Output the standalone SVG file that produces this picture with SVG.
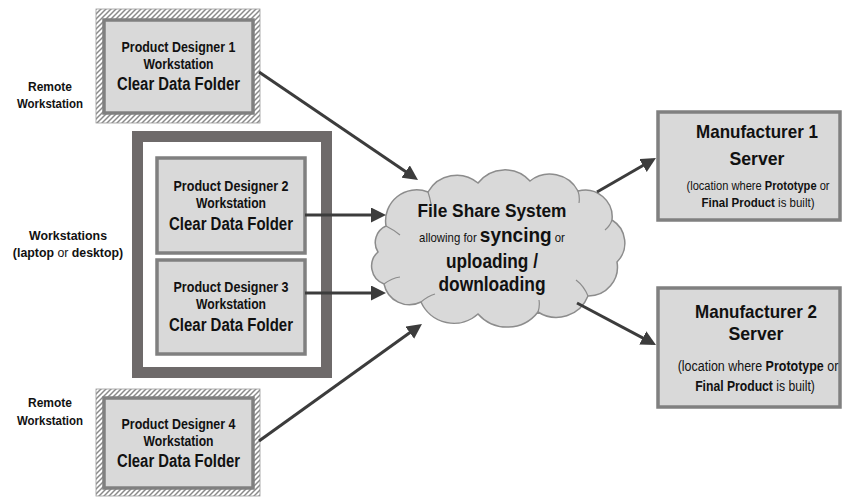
<svg xmlns="http://www.w3.org/2000/svg" width="843" height="500" viewBox="0 0 843 500">
<defs>
<pattern id="hatch" patternUnits="userSpaceOnUse" width="5" height="5">
<rect width="5" height="5" fill="#ffffff"/>
<path d="M-1,1 L1,-1 M0,5 L5,0 M4,6 L6,4" stroke="#8a8a8a" stroke-width="1.5"/>
</pattern>
<marker id="ah" markerUnits="userSpaceOnUse" markerWidth="16" markerHeight="15" refX="11" refY="7.5" orient="auto">
<path d="M0,0 L15,7.5 L0,15 z" fill="#3c3c3c"/>
</marker>
</defs>
<style>
.t{font-family:"Liberation Sans",Arial,sans-serif;font-weight:bold;fill:#111;text-anchor:middle}
.n{font-weight:normal}
.box{fill:#d9d9d9;stroke:#808080;stroke-width:3.5}
.hat{fill:url(#hatch);stroke:#9a9a9a;stroke-width:0.8}
.arr{stroke:#3c3c3c;stroke-width:3;fill:none;marker-end:url(#ah)}
</style>

<g id="label-remote-1">
<text class="t" x="50" y="91" font-size="13" textLength="44" lengthAdjust="spacingAndGlyphs">Remote</text>
<text class="t" x="50" y="108" font-size="13" textLength="66" lengthAdjust="spacingAndGlyphs">Workstation</text>
</g>
<g id="label-workstations">
<text class="t" x="68" y="240" font-size="13" textLength="78" lengthAdjust="spacingAndGlyphs">Workstations</text>
<text class="t" transform="translate(68,257) scale(0.95,1)" x="0" y="0" font-size="13">(laptop <tspan class="n">or</tspan> desktop)</text>
</g>
<g id="label-remote-2">
<text class="t" x="50" y="407" font-size="13" textLength="44" lengthAdjust="spacingAndGlyphs">Remote</text>
<text class="t" x="50" y="425" font-size="13" textLength="66" lengthAdjust="spacingAndGlyphs">Workstation</text>
</g>

<g id="designer1">
<rect class="hat" x="96" y="9" width="164" height="114"/>
<rect class="box" x="104" y="20" width="149" height="93"/>
<text class="t" x="178.5" y="52" font-size="14" textLength="114" lengthAdjust="spacingAndGlyphs">Product Designer 1</text>
<text class="t" x="178.5" y="69" font-size="14" textLength="70" lengthAdjust="spacingAndGlyphs">Workstation</text>
<text class="t" x="178.5" y="90" font-size="18" textLength="123" lengthAdjust="spacingAndGlyphs">Clear Data Folder</text>
</g>

<g id="workstations-frame">
<rect x="137.5" y="136.5" width="189" height="236" fill="#ffffff" stroke="#6e6a6a" stroke-width="11"/>
</g>

<g id="designer2">
<rect class="box" x="157" y="158" width="148" height="95"/>
<text class="t" x="231" y="191" font-size="14" textLength="115" lengthAdjust="spacingAndGlyphs">Product Designer 2</text>
<text class="t" x="231" y="208" font-size="14" textLength="70" lengthAdjust="spacingAndGlyphs">Workstation</text>
<text class="t" x="231" y="230" font-size="18" textLength="124" lengthAdjust="spacingAndGlyphs">Clear Data Folder</text>
</g>

<g id="designer3">
<rect class="box" x="157" y="260" width="148" height="94"/>
<text class="t" x="231" y="292" font-size="14" textLength="115" lengthAdjust="spacingAndGlyphs">Product Designer 3</text>
<text class="t" x="231" y="309" font-size="14" textLength="70" lengthAdjust="spacingAndGlyphs">Workstation</text>
<text class="t" x="231" y="331" font-size="18" textLength="124" lengthAdjust="spacingAndGlyphs">Clear Data Folder</text>
</g>

<g id="designer4">
<rect class="hat" x="96" y="389" width="164" height="107"/>
<rect class="box" x="104" y="398" width="149" height="90"/>
<text class="t" x="178.5" y="429" font-size="14" textLength="114" lengthAdjust="spacingAndGlyphs">Product Designer 4</text>
<text class="t" x="178.5" y="446" font-size="14" textLength="70" lengthAdjust="spacingAndGlyphs">Workstation</text>
<text class="t" x="178.5" y="467" font-size="18" textLength="123" lengthAdjust="spacingAndGlyphs">Clear Data Folder</text>
</g>

<g id="file-share-cloud">
<path d="M386,226 A31,31 0 0 1 428,192 A33,33 0 0 1 478,183 A34,34 0 0 1 530,181 A32,32 0 0 1 578,191 A27,27 0 0 1 612,220 A27,27 0 0 1 617,262 A29,29 0 0 1 588,296 A34,34 0 0 1 538,312 A39,39 0 0 1 478,314 A36,36 0 0 1 421,302 A26,26 0 0 1 384,284 A19,19 0 0 1 378,252 A18,18 0 0 1 386,226 z" fill="#d9d9d9" stroke="#8c8c8c" stroke-width="1.5"/>
<path d="M386,226 Q394,230 400,235 M428,192 Q430,198 431,204 M578,191 Q580,197 579,203 M612,220 Q610,226 605,230 M588,296 Q584,286 576,280 M538,312 Q540,306 539,300 M421,302 Q428,296 435,294 M384,284 Q392,278 400,277" fill="none" stroke="#8c8c8c" stroke-width="1.2"/>
<text class="t" x="492" y="217" font-size="19" textLength="149" lengthAdjust="spacingAndGlyphs">File Share System</text>
<text class="t" transform="translate(492,242) scale(0.95,1)" x="0" y="0" font-size="12"><tspan class="n">allowing for </tspan><tspan font-size="20">syncing</tspan><tspan class="n"> or</tspan></text>
<text class="t" x="492" y="268" font-size="20" textLength="92" lengthAdjust="spacingAndGlyphs">uploading /</text>
<text class="t" x="492" y="291" font-size="20" textLength="107" lengthAdjust="spacingAndGlyphs">downloading</text>
</g>

<g id="manufacturer1">
<rect class="box" x="658" y="112" width="182" height="108"/>
<text class="t" x="757" y="138" font-size="19" textLength="122" lengthAdjust="spacingAndGlyphs">Manufacturer 1</text>
<text class="t" x="757" y="165" font-size="19" textLength="55" lengthAdjust="spacingAndGlyphs">Server</text>
<text class="t" transform="translate(758,190) scale(0.888,1)" x="0" y="0" font-size="12.5"><tspan class="n">(location where </tspan>Prototype<tspan class="n"> or</tspan></text>
<text class="t" transform="translate(758,207) scale(0.92,1)" x="0" y="0" font-size="12.5">Final Product<tspan class="n"> is built)</tspan></text>
</g>

<g id="manufacturer2">
<rect class="box" x="658" y="288" width="182" height="119"/>
<text class="t" x="756" y="318" font-size="19" textLength="122" lengthAdjust="spacingAndGlyphs">Manufacturer 2</text>
<text class="t" x="756" y="340" font-size="19" textLength="55" lengthAdjust="spacingAndGlyphs">Server</text>
<text class="t" transform="translate(758,371) scale(0.89,1)" x="0" y="0" font-size="14"><tspan class="n">(location where </tspan>Prototype<tspan class="n"> or</tspan></text>
<text class="t" transform="translate(755,391) scale(0.87,1)" x="0" y="0" font-size="14">Final Product<tspan class="n"> is built)</tspan></text>
</g>

<g id="connectors">
<line class="arr" x1="259" y1="72" x2="414.7" y2="177.7"/>
<line class="arr" x1="305" y1="215" x2="382" y2="215"/>
<line class="arr" x1="305" y1="293" x2="382" y2="293"/>
<line class="arr" x1="259" y1="441" x2="418.7" y2="326.3"/>
<line class="arr" x1="597" y1="192" x2="652.5" y2="160"/>
<line class="arr" x1="577" y1="303" x2="652.5" y2="343.1"/>
</g>
</svg>
